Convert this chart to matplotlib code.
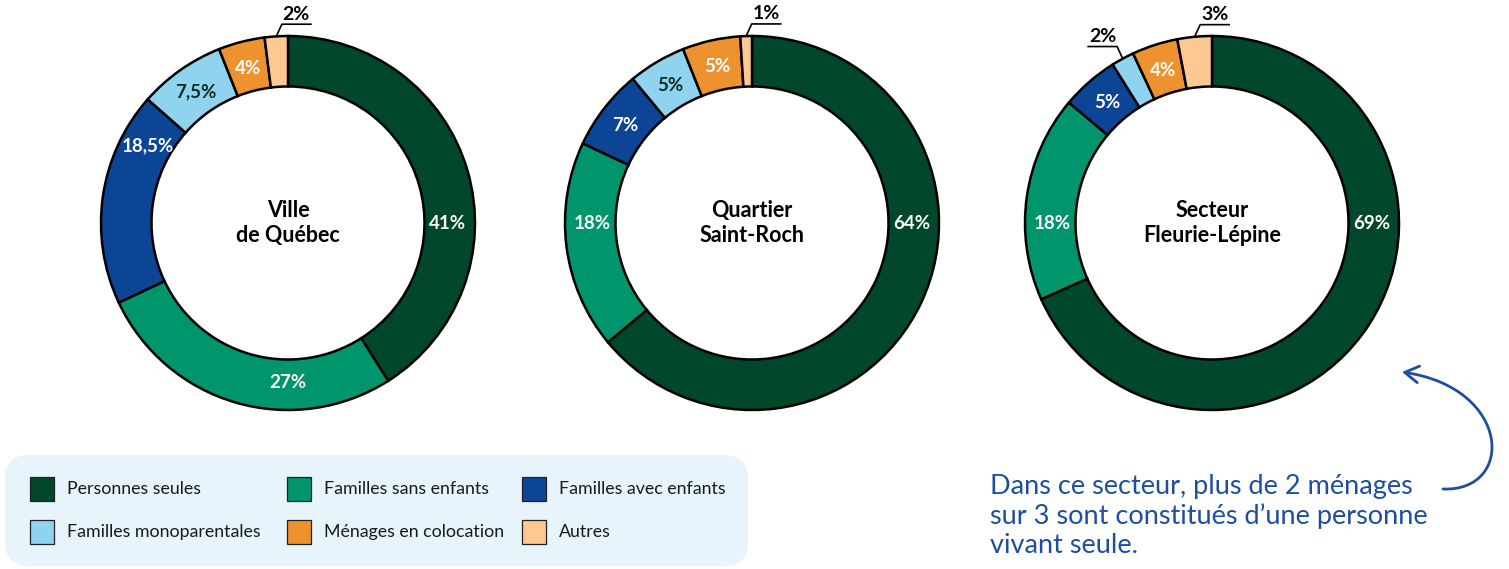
import numpy as np
import matplotlib
matplotlib.use('Agg')
import matplotlib.pyplot as plt
from matplotlib.patches import FancyBboxPatch, Rectangle, FancyArrowPatch
from matplotlib.path import Path

plt.rcParams['font.family'] = ['Lato', 'DejaVu Sans']

W, H = 1509, 569

# --- donnees ---
categories = ['Personnes seules', 'Familles sans enfants', 'Familles avec enfants',
              'Familles monoparentales', 'Ménages en colocation', 'Autres']
colors = ['#00472b', '#00956c', '#0c4596', '#8fd3f1', '#ee922f', '#fdc891']
zones = ['Ville\nde Québec', 'Quartier\nSaint-Roch', 'Secteur\nFleurie-Lépine']
quebec = [41, 27, 18.5, 7.5, 4, 2]
saint_roch = [64, 18, 7, 5, 5, 1]
fleurie = [69, 18, 5, 2, 4, 3]
values = [quebec, saint_roch, fleurie]

# etiquettes a l'exterieur (index, sens du trait)
outside = [{5: 1}, {5: 1}, {3: -1, 5: 1}]
# position des etiquettes (fraction du tour depuis midi), sinon milieu de la part
label_at = [{0: 0.25, 1: 0.5, 2: 0.83}, {0: 0.25, 1: 0.75}, {0: 0.25, 1: 0.75}]
centers = [288, 752, 1212]
cy = 223
R = 187  # rayon en px
lim = 1.3

fig = plt.figure(figsize=(W / 100, H / 100), dpi=100)

# couche pour legende / annotation en pixels
over = fig.add_axes([0, 0, 1, 1])
over.set_xlim(0, W)
over.set_ylim(H, 0)
over.axis('off')

text_dark = '#0d2b20'

for i, vals in enumerate(values):
    cx = centers[i]
    size = 2 * lim * R
    ax = fig.add_axes([(cx - lim * R) / W, 1 - (cy + lim * R) / H, size / W, size / H])
    wedges, _ = ax.pie(vals, colors=colors, startangle=90, counterclock=False,
                       radius=1, wedgeprops=dict(width=0.27, edgecolor='black', linewidth=1.8))
    ax.set_xlim(-lim, lim)
    ax.set_ylim(-lim, lim)
    ax.set_aspect('equal')
    ax.axis('off')
    total = sum(vals)
    cum = 0
    for j, v in enumerate(vals):
        frac_mid = (cum + v / 2) / total
        cum += v
        lab = f"{v:g}".replace('.', ',') + '%'
        if j in outside[i]:
            side = outside[i][j]
            ang = np.deg2rad(90 - frac_mid * 360)
            x0, y0 = np.cos(ang), np.sin(ang)
            ex, ey = x0 + 0.03 * side, y0 + 0.065
            ux = ex + 0.155 * side
            ax.plot([x0, ex, ux], [y0, ey, ey], color='black', lw=1.2, clip_on=False)
            ax.text((ex + ux) / 2, ey + 0.008, lab, ha='center', va='bottom',
                    fontsize=14, fontweight='bold', color='black')
            continue
        pos = label_at[i].get(j, frac_mid)
        ang = np.deg2rad(90 - pos * 360)
        col = text_dark if j == 3 else 'white'
        ax.text(0.855 * np.cos(ang), 0.855 * np.sin(ang), lab, ha='center', va='center',
                fontsize=13.5, fontweight='bold', color=col)
    ax.text(0, 0, zones[i], ha='center', va='center', fontsize=15.5, fontweight='bold',
            color='black', linespacing=1.25)

# legende
over.add_patch(FancyBboxPatch((5, 455), 743, 111, boxstyle='round,pad=0,rounding_size=24',
                              facecolor='#e7f4fc', edgecolor='none'))
cols_x = [30, 287, 522]
rows_y = [489, 532]
for k, (cat, col) in enumerate(zip(categories, colors)):
    x = cols_x[k % 3]
    y = rows_y[k // 3]
    over.add_patch(Rectangle((x, y - 12), 24, 24, facecolor=col, edgecolor='#222222', lw=0.9))
    over.text(x + 37, y, cat, ha='left', va='center', fontsize=12.8, color='#1a1a1a')

# annotation
blue = '#1d4f9e'
over.text(990, 474, 'Dans ce secteur, plus de 2 ménages\nsur 3 sont constitués d\u2019une personne\nvivant seule.',
          ha='left', va='top', fontsize=19.5, color=blue, linespacing=1.2)
arrow_path = Path([(1443, 489), (1515, 492), (1512, 388), (1402, 372)],
                  [Path.MOVETO, Path.CURVE4, Path.CURVE4, Path.CURVE4])
over.add_patch(FancyArrowPatch(path=arrow_path, arrowstyle='->,head_length=10,head_width=6',
                               color=blue, lw=2.0))

fig.savefig('out.png', dpi=100)
